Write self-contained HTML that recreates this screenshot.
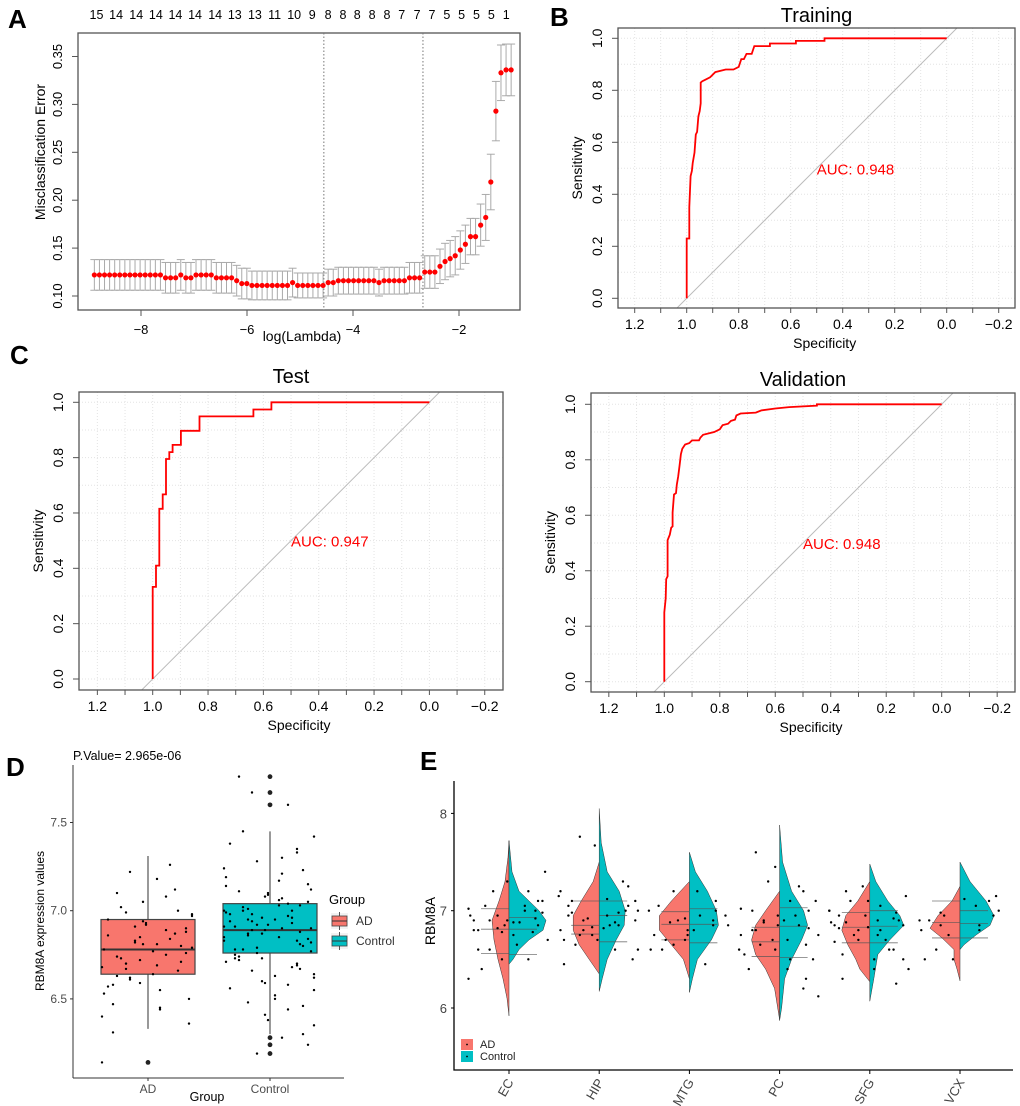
<!DOCTYPE html>
<html><head><meta charset="utf-8"><style>
html,body{margin:0;padding:0;background:#fff;}
svg{display:block;font-family:"Liberation Sans",Arial,sans-serif;}
</style></head><body>
<svg id="fig" width="1020" height="1106" viewBox="0 0 1020 1106" xmlns="http://www.w3.org/2000/svg"></svg>
<script>
// ---------- Panel A data ----------
const aErr = [0.122,0.122,0.122,0.122,0.122,0.122,0.122,0.122,0.122,0.122,0.122,0.122,0.122,0.122,
0.119,0.119,0.119,0.122,0.119,0.119,0.122,0.122,0.122,0.122,0.119,0.119,0.119,0.119,0.116,0.113,0.113,
0.111,0.111,0.111,0.111,0.111,0.111,0.111,0.111,0.114,0.111,0.111,0.111,0.111,0.111,0.111,0.114,0.114,
0.116,0.116,0.116,0.116,0.116,0.116,0.116,0.116,0.114,0.116,0.116,0.116,0.116,0.116,0.119,0.119,0.119,
0.125,0.125,0.125,0.131,0.136,0.139,0.142,0.148,0.154,0.162,0.162,0.174,0.182,0.219,0.293,0.333,0.336,0.336];
const aSE = [0.016,0.016,0.016,0.016,0.016,0.016,0.016,0.016,0.016,0.016,0.016,0.016,0.016,0.016,
0.016,0.016,0.016,0.016,0.016,0.016,0.016,0.016,0.016,0.016,0.016,0.016,0.016,0.016,0.016,0.016,0.016,
0.015,0.015,0.015,0.015,0.015,0.015,0.015,0.015,0.015,0.013,0.013,0.013,0.013,0.013,0.013,0.014,0.014,
0.014,0.014,0.014,0.014,0.014,0.014,0.014,0.014,0.014,0.014,0.014,0.014,0.014,0.014,0.016,0.016,0.016,
0.017,0.017,0.017,0.018,0.019,0.019,0.02,0.02,0.02,0.019,0.019,0.022,0.024,0.029,0.031,0.029,0.027,0.027];
const aLogStart = -8.88;
const aLogStep = 0.0959;
const aXTicks = [-8,-6,-4,-2];
const aYTicks = [0.10,0.15,0.20,0.25,0.30,0.35];
const aDfLabels = [15,14,14,14,14,14,14,13,13,11,10,9,8,8,8,8,8,7,7,7,5,5,5,5,1];
const aDfLog = [-8.84,-8.47,-8.09,-7.72,-7.35,-6.98,-6.60,-6.23,-5.85,-5.48,-5.11,-4.77,-4.47,-4.19,-3.92,-3.64,-3.36,-3.08,-2.79,-2.51,-2.23,-1.95,-1.67,-1.39,-1.11];
const aVLines = [-4.55,-2.68];

// ---------- ROC data ----------
const trainSpec = [1.0,1.0,0.99,0.99,0.985,0.98,0.977,0.97,0.965,0.96,0.955,0.95,0.946,0.946,0.94,0.93,0.91,0.89,0.85,0.82,0.80,0.79,0.78,0.77,0.75,0.74,0.68,0.68,0.58,0.58,0.47,0.47,0.0];
const trainSens = [0.0,0.23,0.23,0.35,0.47,0.49,0.52,0.56,0.63,0.64,0.70,0.72,0.75,0.83,0.835,0.84,0.85,0.87,0.88,0.88,0.89,0.92,0.92,0.94,0.94,0.97,0.97,0.98,0.98,0.99,0.99,1.0,1.0];
const testSpec = [1.0,1.0,0.988,0.988,0.976,0.976,0.964,0.964,0.952,0.952,0.94,0.94,0.928,0.928,0.898,0.898,0.831,0.831,0.636,0.636,0.571,0.571,0.0];
const testSens = [0.0,0.333,0.333,0.41,0.41,0.615,0.615,0.667,0.667,0.795,0.795,0.82,0.82,0.846,0.846,0.897,0.897,0.949,0.949,0.974,0.974,1.0,1.0];
const valSpec = [1.0,1.0,0.995,0.993,0.988,0.988,0.98,0.975,0.97,0.97,0.965,0.958,0.955,0.95,0.945,0.94,0.935,0.925,0.91,0.9,0.875,0.87,0.86,0.84,0.82,0.8,0.79,0.77,0.76,0.745,0.74,0.725,0.67,0.65,0.6,0.55,0.45,0.45,0.0];
const valSens = [0.0,0.25,0.30,0.37,0.38,0.51,0.53,0.555,0.56,0.61,0.675,0.68,0.71,0.74,0.78,0.82,0.84,0.855,0.86,0.87,0.87,0.88,0.89,0.895,0.90,0.91,0.925,0.93,0.94,0.945,0.96,0.967,0.97,0.978,0.985,0.99,0.995,1.0,1.0];
const rocXTickLabels = ["1.2","1.0","0.8","0.6","0.4","0.2","0.0","\u22120.2"];
const rocXTicks = [1.2,1.0,0.8,0.6,0.4,0.2,0.0,-0.2];
const rocYTicks = [0.0,0.2,0.4,0.6,0.8,1.0];

// ---------- Panel D data ----------
const dGroups = ["AD","Control"];
const dQ1 = [6.64,6.76];
const dMed = [6.78,6.89];
const dQ3 = [6.95,7.04];
const dLow = [6.33,6.30];
const dHigh = [7.31,7.45];
const dYTicks = [6.5,7.0,7.5];
const dADValues = [6.95,6.72,6.81,7.05,6.58,6.88,6.63,7.22,6.75,6.91,6.44,6.79,6.99,6.68,7.12,6.53,6.84,6.77,6.93,6.36,6.71,7.02,6.66,6.86,6.59,7.18,6.81,6.47,6.9,6.74,6.62,7.08,6.83,6.55,6.97,6.7,6.4,6.87,6.78,7.26,6.64,6.92,6.5,6.8,6.73,7.0,6.57,6.85,6.69,6.94,6.31,6.76,7.1,6.61,6.89,6.82,6.45,6.98,6.67,6.14];
const dCtrlValues = [6.89,7.04,6.76,7.21,6.62,6.95,6.83,7.33,6.71,7.0,6.5,6.92,7.12,6.8,7.45,6.67,6.98,6.87,7.06,6.41,6.78,7.15,6.74,6.94,6.58,7.28,6.9,6.55,7.01,6.85,6.7,7.19,6.96,6.63,7.09,6.82,6.46,7.0,6.88,7.38,6.73,7.03,6.59,6.91,6.84,7.11,6.66,6.97,6.79,7.07,6.35,6.86,7.24,6.69,6.99,6.93,6.52,7.1,6.77,6.3,7.02,6.81,6.94,6.6,7.17,6.89,6.75,7.05,6.72,6.98,6.44,6.92,7.3,6.64,6.87,7.0,6.83,7.14,6.68,6.95,6.38,6.9,7.23,6.78,7.03,6.56,6.96,6.85,7.08,6.73,6.24,7.76,7.67,7.6,6.19,6.28,7.42,6.48,6.91,7.35];
const dOutliers = [[1,6.14],[2,7.76],[2,7.67],[2,7.60],[2,6.28],[2,6.24],[2,6.19]];
const jitter = [-40,12,33,-18,5,-35,27,-8,44,-27,18,-2,38,-44,9,-22,30,-13,41,-31,22,-5,-46];

// ---------- Panel E data ----------
const eTissues = ["EC","HIP","MTG","PC","SFG","VCX"];
const eYTicks = [6,7,8];
const eADLevels = [
 [7.72,7.55,7.3,7.1,6.9,6.7,6.5,6.3,6.1,5.92],
 [7.5,7.3,7.1,6.95,6.8,6.65,6.5,6.35],
 [7.3,7.1,6.95,6.8,6.65,6.5,6.3],
 [7.2,7.0,6.85,6.7,6.55,6.4,6.2,5.88],
 [7.3,7.1,6.95,6.8,6.65,6.5,6.4,6.27],
 [7.25,7.1,6.95,6.82,6.72,6.6,6.5,6.4,6.28]];
const eADDens = [
 [0,1,4,10,17,15,11,6,2,0],
 [0,6,18,26,26,20,10,0],
 [0,18,30,30,18,6,0],
 [0,14,24,28,24,14,5,0],
 [0,12,24,28,22,14,10,0],
 [0,8,22,30,18,6,6,3,0]];
const eCtrlLevels = [
 [7.72,7.4,7.2,7.0,6.9,6.8,6.7,6.6,6.5,6.45],
 [8.05,7.7,7.4,7.2,7.0,6.85,6.7,6.5,6.3,6.17],
 [7.6,7.4,7.2,7.0,6.85,6.7,6.5,6.3,6.16],
 [7.88,7.5,7.2,7.0,6.85,6.7,6.5,6.3,6.0,5.87],
 [7.48,7.3,7.1,6.95,6.85,6.7,6.55,6.3,6.07],
 [7.5,7.3,7.1,6.95,6.85,6.75,6.65,6.6]];
const eCtrlDens = [
 [0,3,10,30,37,34,20,10,4,0],
 [0,2,8,20,26,25,17,8,3,0],
 [0,6,18,27,29,22,8,3,0],
 [0,3,12,24,28,22,12,5,2,0],
 [0,6,18,30,34,20,8,4,0],
 [0,10,26,34,30,16,4,0]];
const eADQuart = [[6.56,6.81,7.02],[6.76,6.85,7.1],[6.7,6.86,6.99],[6.53,6.68,6.83],[6.67,6.83,6.98],[6.72,6.88,7.1]];
const eCtrlQuart = [[6.55,6.81,6.93],[6.68,6.95,7.1],[6.67,6.86,7.02],[6.52,6.84,7.03],[6.67,6.84,7.0],[6.72,6.87,7.0]];
const eADPoints = [
 [6.9,6.8,7.0,6.6,7.2,6.85,6.5,7.1,6.95,6.3,6.75,7.05,6.65,6.4,6.88,6.78,7.3,6.92],
 [6.9,7.0,6.8,7.1,6.7,6.95,6.6,7.76,6.85,7.05,6.75,6.5,6.92,7.15,6.82,6.65,7.12,6.98],
 [6.9,6.8,7.0,6.7,7.2,6.85,6.6,6.95,6.75,7.05,6.45,6.88],
 [6.8,6.7,7.0,6.5,7.2,6.85,6.3,6.6,6.9,6.12,6.75,7.1,6.55,6.4,6.95,6.65,7.25,6.82],
 [6.85,6.7,7.0,6.5,7.2,6.9,6.3,6.8,6.6,7.1,6.25,6.95,6.75,6.4,6.88,7.15,6.68,6.82],
 [6.85,6.8,7.1,6.5,6.95,6.75,6.9,7.12,6.6]];
const eCtrlPoints = [
 [6.9,7.0,6.85,7.2,6.7,6.95,7.4,6.8,6.6,7.05,6.9,6.5,7.1,6.78,6.98,6.82,7.02,6.88],
 [6.95,7.1,6.85,7.3,6.7,7.0,7.67,6.8,6.6,7.2,6.9,6.45,7.05,6.88,6.75,6.98,7.25,6.83],
 [6.9,7.0,6.8,6.7,7.2,6.6,6.95,6.85,6.75,7.1,6.92,6.65],
 [6.85,7.0,6.7,6.5,7.3,6.6,6.9,7.6,6.4,6.8,7.1,6.2,6.95,6.65,7.45,6.88,6.75,7.02],
 [6.85,6.95,6.7,7.1,6.6,6.9,7.25,6.5,6.8,7.0,6.4,6.88,6.75,6.55,7.05,6.92,6.83,6.98],
 [6.95,7.0,6.8,7.15,6.5,6.9,7.05,6.98,6.85]];

// ---------- helpers ----------
const NS = "http://www.w3.org/2000/svg";
const svg = document.getElementById("fig");
function mk(tag, attrs, parent){
  const e = document.createElementNS(NS, tag);
  for (const k in attrs) e.setAttribute(k, attrs[k]);
  (parent || svg).appendChild(e);
  return e;
}
function tx(x, y, s, attrs, parent){
  const e = mk("text", Object.assign({x:x, y:y}, attrs || {}), parent);
  e.textContent = s;
  return e;
}
function grp(parent){ return mk("g", {}, parent); }

// ---------- panel letters ----------
const letters = [["A",8,28],["B",550,26],["C",10,364],["D",6,776],["E",420,770]];
letters.forEach(L => {
  const t = tx(L[1], L[2], L[0], {"font-size":26, "font-weight":"bold", fill:"#000"});
  
  
});

// ---------- Panel A ----------
(function(){
  const g = grp();
  
  
  const L=78, R=520, T=33, B=310;
  const xs = v => 141 + (v + 8) * 53;
  const ys = v => 296 - (v - 0.10) / 0.05 * 47.9;
  const box = mk("rect", {x:L, y:T, width:R-L, height:B-T, fill:"none", stroke:"#555", "stroke-width":1.3}, g);
  
  
  aVLines.forEach(v => {
    const l = mk("line", {x1:xs(v), x2:xs(v), y1:T, y2:B, stroke:"#777", "stroke-dasharray":"1.5,2", "stroke-width":1}, g);
    
    
  });
  aErr.forEach((v, i) => {
    const lg = aLogStart + i * aLogStep;
    const x = xs(lg);
    const eb = grp(g);
    
    
    mk("line", {x1:x, x2:x, y1:ys(v - aSE[i]), y2:ys(v + aSE[i]), stroke:"#aaa", "stroke-width":1}, eb);
    mk("line", {x1:x-4, x2:x+4, y1:ys(v - aSE[i]), y2:ys(v - aSE[i]), stroke:"#aaa", "stroke-width":1}, eb);
    mk("line", {x1:x-4, x2:x+4, y1:ys(v + aSE[i]), y2:ys(v + aSE[i]), stroke:"#aaa", "stroke-width":1}, eb);
  });
  aErr.forEach((v, i) => {
    const c = mk("circle", {cx:xs(aLogStart + i * aLogStep), cy:ys(v), r:2.6, fill:"#f00"}, g);
    
    
  });
  aXTicks.forEach(v => {
    mk("line", {x1:xs(v), x2:xs(v), y1:B, y2:B+6, stroke:"#555"}, g);
    const t = tx(xs(v), B+24, v < 0 ? "\u2212" + Math.abs(v) : String(v), {"font-size":13, "text-anchor":"middle", fill:"#000"}, g);
    
    
  });
  aYTicks.forEach(v => {
    mk("line", {x1:L-6, x2:L, y1:ys(v), y2:ys(v), stroke:"#555"}, g);
    const t = tx(62, ys(v), v.toFixed(2), {"font-size":13, "text-anchor":"middle", fill:"#000", transform:`rotate(-90 62 ${ys(v)})`}, g);
    
    
  });
  aDfLabels.forEach((s, i) => {
    const t = tx(xs(aDfLog[i]), 19, String(s), {"font-size":12.5, "text-anchor":"middle", fill:"#000"}, g);
    
    
  });
  const xt = tx(302, 341, "log(Lambda)", {"font-size":14, "text-anchor":"middle"}, g);
  
  
  const yt = tx(45, 152, "Misclassification Error", {"font-size":14, "text-anchor":"middle", transform:"rotate(-90 45 152)"}, g);
  
  
})();

// ---------- ROC panels ----------
function roc(name, box, x1, k, y0, spec, sens, title, titleY, auc){
  const g = grp();
  
  
  const xs = s => x1 + (1 - s) * k;
  const ys = s => y0 - s * k;
  const clipId = name + "-clip";
  const cp = mk("clipPath", {id:clipId}, g);
  mk("rect", {x:box.l, y:box.t, width:box.r-box.l, height:box.b-box.t}, cp);
  for (let i = 0; i <= 14; i++) {
    const s = 1.2 - i * 0.1;
    mk("line", {x1:xs(s), x2:xs(s), y1:box.t, y2:box.b, stroke:"#e3e3e3", "stroke-dasharray":"1,2", "stroke-width":1}, g);
  }
  for (let i = 0; i <= 10; i++) {
    const s = i * 0.1;
    mk("line", {x1:box.l, x2:box.r, y1:ys(s), y2:ys(s), stroke:"#e3e3e3", "stroke-dasharray":"1,2", "stroke-width":1}, g);
  }
  const diag = mk("line", {x1:xs(1.2), y1:ys(-0.2), x2:xs(-0.2), y2:ys(1.2), stroke:"#bbb", "stroke-width":1, "clip-path":`url(#${clipId})`}, g);
  
  
  const pts = spec.map((s, i) => xs(s).toFixed(1) + "," + ys(sens[i]).toFixed(1)).join(" ");
  const curve = mk("polyline", {points:pts, fill:"none", stroke:"#f00", "stroke-width":1.8}, g);
  
  
  const fr = mk("rect", {x:box.l, y:box.t, width:box.r-box.l, height:box.b-box.t, fill:"none", stroke:"#555", "stroke-width":1.3}, g);
  
  
  for (let i = 0; i <= 14; i++) {
    const s = 1.2 - i * 0.1;
    mk("line", {x1:xs(s), x2:xs(s), y1:box.b, y2:box.b+5, stroke:"#555"}, g);
  }
  rocXTicks.forEach((s, i) => {
    const t = tx(xs(s), box.b+21, rocXTickLabels[i], {"font-size":14, "text-anchor":"middle"}, g);
    
    
  });
  rocYTicks.forEach(s => {
    mk("line", {x1:box.l-6, x2:box.l, y1:ys(s), y2:ys(s), stroke:"#555"}, g);
    const lx = box.l - 16;
    const t = tx(lx, ys(s), s.toFixed(1), {"font-size":14, "text-anchor":"middle", transform:`rotate(-90 ${lx} ${ys(s)})`}, g);
    
    
  });
  const cx = (box.l + box.r) / 2;
  const tt = tx(cx, titleY, title, {"font-size":20, "text-anchor":"middle"}, g);
  
  
  const xl = tx(xs(0.5) + 8, box.b + 40, "Specificity", {"font-size":14, "text-anchor":"middle"}, g);
  
  
  const yx = box.l - 36, yy = (box.t + box.b) / 2;
  const yl = tx(yx, yy, "Sensitivity", {"font-size":14, "text-anchor":"middle", transform:`rotate(-90 ${yx} ${yy})`}, g);
  
  
  const at = tx(xs(0.5), ys(0.5) + 6, "AUC: " + auc, {"font-size":15, fill:"#f00"}, g);
  
  
}
roc("panel-b-training-roc", {l:618,r:1015,t:28,b:308}, 686.7, 260, 298.3, trainSpec, trainSens, "Training", 22, "0.948");
roc("panel-c-test-roc", {l:79,r:503,t:392,b:690}, 152.7, 276.7, 679, testSpec, testSens, "Test", 383, "0.947");
roc("panel-c-validation-roc", {l:591,r:1015,t:393,b:692}, 664.3, 277.4, 681.7, valSpec, valSens, "Validation", 386, "0.948");

// ---------- Panel D ----------
(function(){
  const g = grp();
  
  
  const ys = v => 910.7 - (v - 7.0) / 0.5 * 88.2;
  const cxs = [148, 270];
  const hw = 47;
  const AD = "#F8766D", CT = "#00BFC4";
  const fills = [AD, CT];
  dGroups.forEach((gname, i) => {
    const bg = grp(g);
    
    
    const cx = cxs[i];
    mk("line", {x1:cx, x2:cx, y1:ys(dHigh[i]), y2:ys(dLow[i]), stroke:"#555", "stroke-width":1.2}, bg);
    mk("rect", {x:cx-hw, y:ys(dQ3[i]), width:2*hw, height:ys(dQ1[i]) - ys(dQ3[i]), fill:fills[i], stroke:"#444", "stroke-width":1.2}, bg);
    mk("line", {x1:cx-hw, x2:cx+hw, y1:ys(dMed[i]), y2:ys(dMed[i]), stroke:"#333", "stroke-width":2}, bg);
  });
  dOutliers.forEach(o => {
    const c = mk("circle", {cx:cxs[o[0]-1], cy:ys(o[1]), r:2.4, fill:"#222"}, g);
    
    
  });
  [dADValues, dCtrlValues].forEach((vals, gi) => {
    vals.forEach((v, i) => {
      const c = mk("circle", {cx:cxs[gi] + jitter[(i * 7 + gi * 3) % jitter.length], cy:ys(v), r:1.2, fill:"#000"}, g);
      
      
    });
  });
  mk("line", {x1:73, x2:73, y1:765, y2:1078, stroke:"#333", "stroke-width":1}, g);
  mk("line", {x1:73, x2:344, y1:1078, y2:1078, stroke:"#333", "stroke-width":1}, g);
  dYTicks.forEach(v => {
    mk("line", {x1:70, x2:73, y1:ys(v), y2:ys(v), stroke:"#333"}, g);
    const t = tx(67, ys(v) + 4, v.toFixed(1), {"font-size":12, "text-anchor":"end", fill:"#4d4d4d"}, g);
    
    
  });
  dGroups.forEach((s, i) => {
    mk("line", {x1:cxs[i], x2:cxs[i], y1:1078, y2:1081, stroke:"#333"}, g);
    const t = tx(cxs[i], 1093, s, {"font-size":12, "text-anchor":"middle", fill:"#4d4d4d"}, g);
    
    
  });
  const xt = tx(207, 1101, "Group", {"font-size":12.5, "text-anchor":"middle"}, g);
  
  
  const yt = tx(44, 921, "RBM8A expression values", {"font-size":12, "text-anchor":"middle", transform:"rotate(-90 44 921)"}, g);
  
  
  const pv = tx(73, 760, "P.Value= 2.965e-06", {"font-size":12.5}, g);
  
  
  const lg = grp(g);
  
  
  tx(329, 904, "Group", {"font-size":13}, lg);
  [["AD", AD, 921], ["Control", CT, 941]].forEach(e => {
    const it = grp(lg);
    
    
    mk("rect", {x:331, y:e[2]-8, width:17, height:16, fill:"#f2f2f2"}, it);
    mk("line", {x1:339.5, x2:339.5, y1:e[2]-9, y2:e[2]+9, stroke:"#555"}, it);
    mk("rect", {x:332, y:e[2]-5, width:15, height:10, fill:e[1], stroke:"#444", "stroke-width":0.8}, it);
    mk("line", {x1:332, x2:347, y1:e[2], y2:e[2], stroke:"#333"}, it);
    tx(356, e[2] + 4, e[0], {"font-size":12, fill:"#333"}, it);
  });
})();

// ---------- Panel E ----------
(function(){
  const g = grp();
  
  
  const ys = v => 910.7 - (v - 7.0) * 97.3;
  const x0 = 509, dx = 90.2;
  const AD = "#F8766D", CT = "#00BFC4";
  eTissues.forEach((name, i) => {
    const cx = x0 + i * dx;
    const tg = grp(g);
    
    
    let p = "M" + cx + "," + ys(eADLevels[i][0]);
    eADLevels[i].forEach((lv, j) => { p += " L" + (cx - eADDens[i][j]).toFixed(1) + "," + ys(lv).toFixed(1); });
    p += " Z";
    const va = mk("path", {d:p, fill:AD, stroke:"#333", "stroke-width":0.5, "stroke-linejoin":"round"}, tg);
    
    
    let q = "M" + cx + "," + ys(eCtrlLevels[i][0]);
    eCtrlLevels[i].forEach((lv, j) => { q += " L" + (cx + eCtrlDens[i][j]).toFixed(1) + "," + ys(lv).toFixed(1); });
    q += " Z";
    const vc = mk("path", {d:q, fill:CT, stroke:"#333", "stroke-width":0.5, "stroke-linejoin":"round"}, tg);
    
    
    eADQuart[i].forEach(v => {
      mk("line", {x1:cx-28, x2:cx, y1:ys(v), y2:ys(v), stroke:"#555", "stroke-width":0.8, opacity:0.8}, tg);
    });
    eCtrlQuart[i].forEach(v => {
      mk("line", {x1:cx, x2:cx+28, y1:ys(v), y2:ys(v), stroke:"#555", "stroke-width":0.8, opacity:0.8}, tg);
    });
    [eADPoints[i], eCtrlPoints[i]].forEach((vals, gi) => {
      vals.forEach((v, j) => {
        const c = mk("circle", {cx:cx + jitter[(j * 5 + gi * 11 + i * 3) % jitter.length] * 0.88, cy:ys(v), r:1.2, fill:"#000"}, tg);
        
        
      });
    });
    mk("line", {x1:cx, x2:cx, y1:1070, y2:1074, stroke:"#000"}, g);
    const lx = cx + 5, ly = 1082;
    const t = tx(lx, ly, name, {"font-size":13, "text-anchor":"end", fill:"#444", transform:`rotate(-60 ${lx} ${ly})`}, g);
    
    
  });
  const ax = mk("path", {d:"M454,781 L454,1070 L1013,1070", fill:"none", stroke:"#000", "stroke-width":1.3}, g);
  
  
  eYTicks.forEach(v => {
    mk("line", {x1:451, x2:454, y1:ys(v), y2:ys(v), stroke:"#000"}, g);
    const t = tx(447, ys(v) + 5, String(v), {"font-size":13, "text-anchor":"end", fill:"#444"}, g);
    
    
  });
  const yt = tx(435, 921, "RBM8A", {"font-size":14, "text-anchor":"middle", transform:"rotate(-90 435 921)"}, g);
  
  
  const lg = grp(g);
  
  
  [["AD", AD, 1039], ["Control", CT, 1051]].forEach(e => {
    const it = grp(lg);
    
    
    mk("rect", {x:461, y:e[2], width:12, height:11, fill:e[1]}, it);
    mk("circle", {cx:467, cy:e[2]+5.5, r:0.9, fill:"#000"}, it);
    tx(480, e[2] + 9, e[0], {"font-size":11, fill:"#222"}, it);
  });
})();
</script>
</body></html>
